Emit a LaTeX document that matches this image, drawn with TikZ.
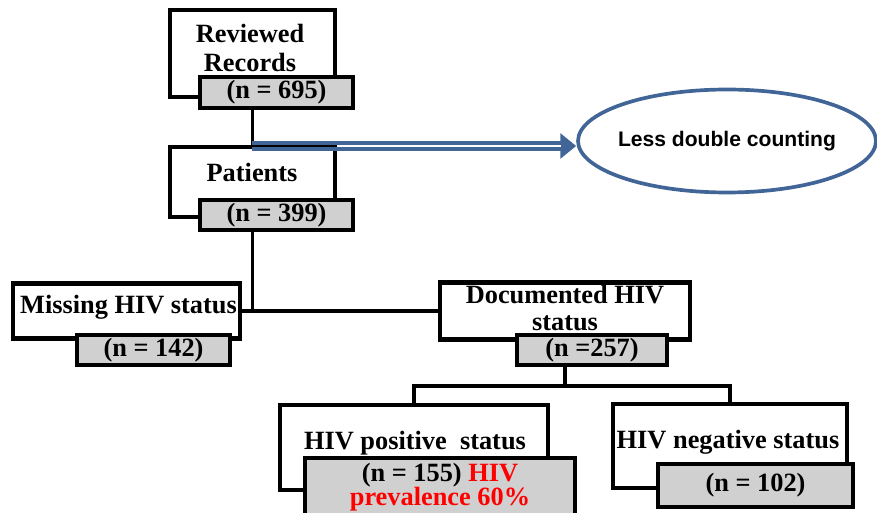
\documentclass[tikz,border=0pt]{standalone}
\usepackage{fontspec}
\setmainfont{Liberation Serif}
\newfontfamily\arialfont{Liberation Sans}
\usepackage{xcolor}
\usetikzlibrary{shapes.geometric,arrows.meta,calc}
\definecolor{boxgray}{RGB}{208,208,208}
\definecolor{arrowblue}{RGB}{65,101,151}

\begin{document}
\begin{tikzpicture}[x=0.02cm,y=-0.02cm,
	whitebox/.style={draw,line width=2.5pt,fill=white},
	graybox/.style={draw,line width=2.5pt,fill=boxgray,inner sep=0pt,align=center,font=\bfseries\fontsize{15}{14}\selectfont},
	boxtext/.style={inner sep=0pt,align=center,font=\bfseries\fontsize{15}{16.5}\selectfont},
	link/.style={line width=2.1pt}]
	\useasboundingbox (0,0) rectangle (877,513);
	\clip (0,0) rectangle (877,513);
	% records and patients
	\node[whitebox,minimum width=3.3cm,minimum height=1.74cm] (rev) at (252.5,53.5) {};
	\node[boxtext] (revtext) at (250,47.5) {Reviewed\\Records};
	\node[graybox,minimum width=3.06cm,minimum height=0.62cm] (revn) at (276.5,92.5) {(n = 695)};
	\node[whitebox,minimum width=3.3cm,minimum height=1.4cm] (pat) at (252.5,182) {};
	\node[boxtext] (pattext) at (252,172) {Patients};
	\node[graybox,minimum width=3.06cm,minimum height=0.6cm] (patn) at (276.5,215) {(n = 399)};
	% HIV status known or not
	\node[whitebox,minimum width=4.54cm,minimum height=1.1cm] (miss) at (126.5,311) {};
	\node[boxtext] (misstext) at (128.5,307) {Missing HIV status};
	\node[graybox,minimum width=3.06cm,minimum height=0.6cm] (missn) at (153.5,350) {(n = 142)};
	\node[whitebox,minimum width=5cm,minimum height=1.14cm] (doc) at (565,311) {};
	\node[boxtext,font=\bfseries\fontsize{15}{15}\selectfont] (doctext) at (565,308) {Documented HIV\\status};
	\node[graybox,minimum width=3cm,minimum height=0.6cm] (docn) at (592,350) {(n =257)};
	% positive and negative
	\node[whitebox,minimum width=5.36cm,minimum height=1.7cm] (pos) at (414,447.5) {};
	\node[boxtext] (postext) at (415,443) {HIV positive\ \ status};
	\node[graybox,minimum width=5.4cm,minimum height=1.16cm] (posn) at (440,487) {(n = 155) \textcolor{red}{HIV}\\\textcolor{red}{prevalence 60\%}};
	\node[whitebox,minimum width=4.68cm,minimum height=1.68cm] (neg) at (730,446) {};
	\node[boxtext] (negtext) at (728,442) {HIV negative status};
	\node[graybox,minimum width=3.9cm,minimum height=0.86cm] (negn) at (755.5,485.5) {(n = 102)};

	\draw[link] (pat.north |- revn.south) -- (pat.north);
	\draw[link] (pat.south |- patn.south) -- (pat.south |- miss.east);
	\draw[link] (miss.east) -- (doc.west);
	\coordinate (split) at (565,386);
	\draw[link] (doc.south |- docn.south) -- (split);
	\draw[link] (pos.north) |- (split) -| (neg.north);

	% side note
	\node[ellipse,draw=arrowblue,line width=2.1pt,inner xsep=-8pt,inner ysep=0pt,minimum width=5.96cm,minimum height=2.06cm,font=\arialfont\bfseries\fontsize{12}{14}\selectfont] (less) at (727,141) {Less double counting};
	\coordinate (fork) at (252,146);
	\draw[arrowblue,line width=5.5pt,-{Triangle[length=9pt,width=14pt]}] (fork) -- (fork -| less.west);
	\draw[line width=0.8pt] (fork) -- (fork -| pat.east);
	\draw[white,line width=0.8pt] (fork -| pat.east) -- ($(fork -| less.west)+(-15,0)$);
\end{tikzpicture}
\end{document}
